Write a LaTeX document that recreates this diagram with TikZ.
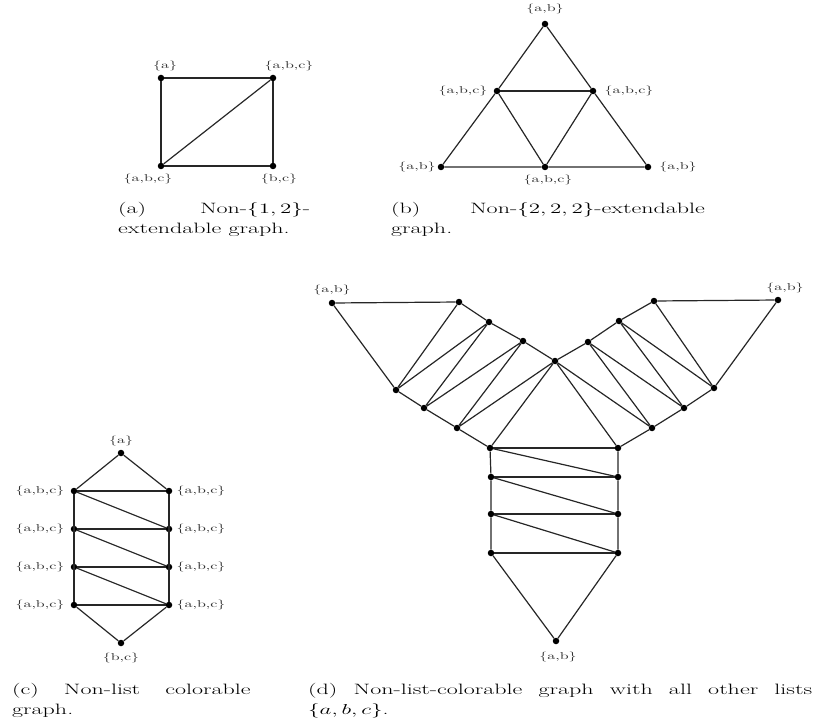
\documentclass[tikz,border=0pt]{standalone}
\usepackage{graphicx}
\newcommand{\hs}[1]{\scalebox{1.6}[1]{#1}}
\tikzset{
  v/.style={circle, fill=black, inner sep=0pt, minimum size=6.5pt},
  e/.style={line width=1.2pt, black!85},
  lab/.style={font=\fontsize{10}{12}\selectfont, inner sep=0pt, text=black!80},
  captxt/.style={font=\fontsize{15}{18}\selectfont, inner sep=0pt, anchor=base west},
}
\begin{document}
\begin{tikzpicture}[x=1pt,y=-1pt]
\useasboundingbox (0,0) rectangle (814,722);
% ---------- (a)
\node[v] (a1) at (161,78) {};
\node[v] (a2) at (273,78) {};
\node[v] (a3) at (161,166) {};
\node[v] (a4) at (273,166) {};
\draw[e] (a1) -- (a2) -- (a4) -- (a3) -- (a1);
\draw[e] (a3) -- (a2);
\node[lab] (la1) at (165,66) {\hs{\{a\}}};
\node[lab] (la2) at (289,66) {\hs{\{a,b,c\}}};
\node[lab] (la3) at (148,179) {\hs{\{a,b,c\}}};
\node[lab] (la4) at (279,179) {\hs{\{b,c\}}};
\node[captxt] (ca1) at (118,214) {\hs{\makebox[120pt][s]{(a) Non-$\{1,2\}$-}}};
\node[captxt] (ca2) at (118,234) {\hs{extendable graph.}};
% ---------- (b)
\node[v] (b1) at (545,24) {};
\node[v] (b2) at (497,91) {};
\node[v] (b3) at (593,91) {};
\node[v] (b4) at (441,167) {};
\node[v] (b5) at (545,167) {};
\node[v] (b6) at (648,167) {};
\draw[e] (b1) -- (b2) -- (b4) -- (b5) -- (b6) -- (b3) -- (b1);
\draw[e] (b2) -- (b3);
\draw[e] (b2) -- (b5) -- (b3);
\node[lab] (lb1) at (545,9) {\hs{\{a,b\}}};
\node[lab] (lb2) at (463,91) {\hs{\{a,b,c\}}};
\node[lab] (lb3) at (629,91) {\hs{\{a,b,c\}}};
\node[lab] (lb4) at (417,167) {\hs{\{a,b\}}};
\node[lab] (lb5) at (548,180) {\hs{\{a,b,c\}}};
\node[lab] (lb6) at (678,167) {\hs{\{a,b\}}};
\node[captxt] (cb1) at (391,214) {\hs{\makebox[196pt][s]{(b) Non-$\{2,2,2\}$-extendable}}};
\node[captxt] (cb2) at (391,234) {\hs{graph.}};
% ---------- (c)
\node[v] (ct) at (121,453) {};
\node[v] (cl1) at (74,491) {};
\node[v] (cl2) at (74,529) {};
\node[v] (cl3) at (74,567) {};
\node[v] (cl4) at (74,605) {};
\node[v] (cr1) at (169,491) {};
\node[v] (cr2) at (169,529) {};
\node[v] (cr3) at (169,567) {};
\node[v] (cr4) at (169,605) {};
\node[v] (cb) at (121,643) {};
\draw[e] (cl1) -- (ct) -- (cr1);
\draw[e] (cl4) -- (cb) -- (cr4);
\draw[e] (cl1) -- (cl4);
\draw[e] (cr1) -- (cr4);
\foreach \i in {1,2,3,4} { \draw[e] (cl\i) -- (cr\i); }
\draw[e] (cl1) -- (cr2);
\draw[e] (cl2) -- (cr3);
\draw[e] (cl3) -- (cr4);
\node[lab] (lct) at (121,441) {\hs{\{a\}}};
\foreach \i/\y in {1/491,2/529,3/567,4/605} {
  \node[lab] (lcl\i) at (40,\y) {\hs{\{a,b,c\}}};
  \node[lab] (lcr\i) at (201,\y) {\hs{\{a,b,c\}}};
}
\node[lab] (lcb) at (121,658) {\hs{\{b,c\}}};
\node[captxt] (cc1) at (12,694) {\hs{\makebox[149pt][s]{(c) Non-list colorable}}};
\node[captxt] (cc2) at (12,714) {\hs{graph.}};
% ---------- (d)
\node[v] (L0) at (332,303) {};
\node[v] (A1) at (459,302) {};
\node[v] (A2) at (489,322) {};
\node[v] (A3) at (523,341) {};
\node[v] (C)  at (555,361) {};
\node[v] (B1) at (396,390) {};
\node[v] (B2) at (424,408) {};
\node[v] (B3) at (457,428) {};
\node[v] (B4) at (490,448) {};
\node[v] (R0) at (778,300) {};
\node[v] (P1) at (654,301) {};
\node[v] (P2) at (619,321) {};
\node[v] (P3) at (588,342) {};
\node[v] (Q1) at (714,388) {};
\node[v] (Q2) at (684,408) {};
\node[v] (Q3) at (652,428) {};
\node[v] (Q4) at (618,448) {};
\node[v] (M2) at (491,477) {};
\node[v] (M3) at (491,514) {};
\node[v] (M4) at (491,553) {};
\node[v] (N2) at (618,477) {};
\node[v] (N3) at (618,514) {};
\node[v] (N4) at (618,553) {};
\node[v] (D)  at (556,641) {};
% left wing
\draw[e] (B1) -- (L0) -- (A1) -- (A2) -- (A3) -- (C);
\draw[e] (B1) -- (B2) -- (B3) -- (B4);
\draw[e] (A1) -- (B1) -- (A2) -- (B2) -- (A3) -- (B3) -- (C) -- (B4);
% right wing
\draw[e] (Q1) -- (R0) -- (P1) -- (P2) -- (P3) -- (C);
\draw[e] (Q1) -- (Q2) -- (Q3) -- (Q4);
\draw[e] (P1) -- (Q1) -- (P2) -- (Q2) -- (P3) -- (Q3) -- (C) -- (Q4);
% ladder
\draw[e] (B4) -- (M2) -- (M3) -- (M4) -- (D) -- (N4) -- (N3) -- (N2) -- (Q4);
\draw[e] (B4) -- (Q4);
\draw[e] (M2) -- (N2);
\draw[e] (M3) -- (N3);
\draw[e] (M4) -- (N4);
\draw[e] (B4) -- (N2);
\draw[e] (M2) -- (N3);
\draw[e] (M3) -- (N4);
\node[lab] (lL0) at (332,290) {\hs{\{a,b\}}};
\node[lab] (lR0) at (785,288) {\hs{\{a,b\}}};
\node[lab] (lD) at (558,657) {\hs{\{a,b\}}};
\node[captxt] (cd1) at (308,694) {\hs{\makebox[315pt][s]{(d) Non-list-colorable graph with all other lists}}};
\node[captxt] (cd2) at (308,714) {\hs{$\{a,b,c\}$.}};
\end{tikzpicture}
\end{document}
